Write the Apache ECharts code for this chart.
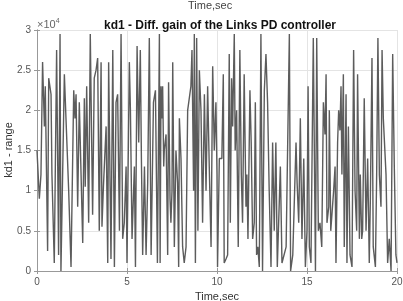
<!DOCTYPE html>
<html><head><meta charset="utf-8">
<script src="https://cdn.jsdelivr.net/npm/echarts@6/dist/echarts.min.js"></script>
<style>html,body{margin:0;padding:0;background:#fff}#c{width:403px;height:301px}</style>
</head><body><div id="c"></div>
<script>
var titleText = 'kd1 - Diff. gain of the Links PD controller';
var topText = 'Time,sec';
var xName = 'Time,sec';
var yName = 'kd1 - range';
var xTicks = [0, 5, 10, 15, 20];
var yTicks = [0, 0.5, 1, 1.5, 2, 2.5, 3];
var yScale = 10000;
var time = [0.0,0.13,0.22,0.31,0.41,0.46,0.59,0.65,0.78,0.83,0.96,1.09,1.2,1.28,1.33,1.52,1.61,1.76,1.89,2.04,2.11,2.17,2.26,2.35,2.54,2.63,2.68,2.76,2.87,2.96,3.09,3.18,3.28,
3.37,3.46,3.56,3.61,3.69,3.84,3.93,3.98,4.11,4.21,4.3,4.39,4.48,4.58,4.67,4.76,4.85,4.95,5.0,5.13,5.19,5.28,5.41,5.47,5.56,5.65,5.74,5.8,5.87,5.97,6.06,6.15,6.24,6.34,6.47,6.58,6.69,
6.80,6.84,6.89,6.94,6.98,7.04,7.07,7.17,7.26,7.31,7.39,7.44,7.5,7.54,7.63,7.72,7.81,7.87,7.91,8.0,8.09,8.18,8.28,8.37,8.46,8.55,8.61,8.70,8.74,8.80,8.87,8.94,9.02,9.11,9.2,9.3,9.39,9.48,9.57,9.67,9.76,9.85,
9.94,10.0,10.03,10.13,10.27,10.35,10.4,10.5,10.59,10.68,10.74,10.81,10.87,10.96,11.01,11.09,11.18,11.27,11.35,11.42,11.51,11.61,11.66,11.72,11.83,11.9,11.98,12.07,12.13,12.2,12.27,12.35,12.44,12.53,12.63,12.72,12.81,12.9,13.0,13.09,13.18,13.27,13.35,
13.52,13.61,13.69,13.84,14.02,14.09,14.21,14.3,14.39,14.45,14.54,14.63,14.72,14.82,14.91,15.0,15.06,15.13,15.22,15.35,15.47,15.54,15.63,15.72,15.82,15.91,16.0,16.06,16.11,16.21,16.24,16.32,16.43,16.48,16.56,16.61,
16.70,16.76,16.83,16.89,16.94,17.02,17.07,17.17,17.22,17.3,17.39,17.5,17.59,17.67,17.76,17.81,17.91,17.96,18.04,18.09,18.18,18.28,18.37,18.46,18.52,18.61,18.68,18.8,18.87,18.94,19.02,19.11,19.17,19.24,19.39,19.48,19.57,19.67,19.76,19.85,19.94,20.0];
var kd1 = [1.5,0.9,1.2,2.6,1.8,2.3,0.25,2.4,2.2,1.2,0.1,2.75,0.2,2.95,0.0,2.45,1.9,1.0,0.05,2.25,1.9,2.2,0.8,2.1,0.35,2.15,1.05,2.3,0.6,2.95,0.7,2.4,2.5,
2.65,0.5,2.6,0.55,1.05,1.8,0.1,2.6,0.15,2.75,0.05,2.1,2.2,0.5,2.95,0.4,0.6,1.3,0.1,2.6,2.0,0.4,1.3,0.05,2.8,1.6,2.75,1.4,0.2,1.3,0.2,1.1,2.9,0.2,2.1,2.25,0.1,
2.95,0.1,2.3,1.9,2.3,1.3,1.5,1.7,0.2,2.35,0.9,0.6,1.0,2.6,0.3,1.5,1.1,0.05,1.9,1.4,0.3,0.1,0.3,2.0,2.0,2.3,2.75,1.0,2.95,0.1,2.9,0.5,2.5,2.0,0.6,2.2,1.0,2.3,1.3,0.3,2.55,1.5,
2.1,1.2,0.05,1.4,1.4,2.45,0.1,0.15,0.2,2.7,0.6,2.4,1.8,2.95,1.5,2.0,0.3,2.75,1.2,0.6,2.45,0.8,1.2,0.4,2.25,1.6,0.4,0.6,2.1,0.2,0.3,0.05,2.95,0.0,2.25,2.7,2.1,1.0,0.05,1.6,0.5,1.6,0.05,
1.3,0.1,0.1,0.3,2.95,0.0,0.2,0.2,1.6,1.1,0.6,1.9,0.4,1.4,0.05,0.5,2.3,0.3,0.1,2.9,0.0,2.9,0.5,0.6,0.3,2.1,1.7,2.45,0.6,0.8,2.0,0.5,0.5,1.0,1.3,0.1,
1.6,2.0,1.75,2.3,1.2,2.45,0.3,2.2,0.1,1.8,0.2,0.05,2.75,1.0,0.5,2.45,0.4,1.2,0.4,0.5,2.15,0.5,1.4,0.1,0.9,2.65,0.3,0.05,1.2,2.9,1.2,0.8,2.75,1.9,1.2,0.1,0.4,0.0,2.7,1.3,0.2,0.1];

var pts = [];
for (var i = 0; i < time.length; i++) pts.push([time[i], kd1[i] * yScale]);

var chart = echarts.init(document.getElementById('c'), null, {renderer: 'canvas'});
var fontFam = 'Liberation Sans, Arial, sans-serif';
chart.setOption({
  animation: false,
  backgroundColor: '#fff',
  title: {
    text: titleText, left: 215, top: 15, textAlign: 'center',
    textStyle: {fontSize: 12, fontWeight: 'bold', color: '#111', fontFamily: fontFam}
  },
  graphic: [
    {type: 'text', left: 188, top: 0, style: {text: topText, fontSize: 11, fill: '#444', fontFamily: fontFam}},
    {type: 'text', left: 37, top: 18, style: {text: '×10{s|4}', rich: {s: {fontSize: 7, verticalAlign: 'top', padding: [0,0,6,0]}}, fontSize: 11, fill: '#666', fontFamily: fontFam}},
    {type: 'text', x: 9, y: 150, rotation: Math.PI / 2,
      style: {text: yName, fontSize: 11, fill: '#333', fontFamily: fontFam, align: 'center', verticalAlign: 'middle'}}
  ],
  grid: {left: 37, top: 30, right: 6, bottom: 30, show: false, outerBoundsMode: 'none', containLabel: false},
  xAxis: [{
    type: 'value', min: 0, max: 20, interval: 5,
    name: xName, nameLocation: 'middle', nameGap: 18,
    nameTextStyle: {fontSize: 11, color: '#333', fontFamily: fontFam},
    axisLine: {show: true, onZero: false, lineStyle: {color: '#999'}},
    axisTick: {show: true, inside: true, length: 3, lineStyle: {color: '#999'}},
    axisLabel: {fontSize: 10, color: '#555', margin: 6, fontFamily: fontFam},
    splitLine: {show: true, lineStyle: {color: '#e4e4e4', width: 1}}
  }, {
    type: 'value', position: 'top', min: 0, max: 20, interval: 5,
    axisLine: {show: true, lineStyle: {color: '#999'}},
    axisTick: {show: true, inside: true, length: 3, lineStyle: {color: '#999'}},
    axisLabel: {show: false}, splitLine: {show: false}
  }],
  yAxis: [{
    type: 'value', min: 0, max: 30000, interval: 5000,
    axisLine: {show: true, lineStyle: {color: '#999'}},
    axisTick: {show: true, inside: true, length: 3, lineStyle: {color: '#999'}},
    axisLabel: {fontSize: 10, color: '#555', margin: 6, fontFamily: fontFam,
      formatter: function (v) { return String(v / yScale); }},
    splitLine: {show: true, lineStyle: {color: '#e4e4e4', width: 1}}
  }, {
    type: 'value', position: 'right', min: 0, max: 30000, interval: 5000,
    axisLine: {show: true, lineStyle: {color: '#999'}},
    axisTick: {show: true, inside: true, length: 3, lineStyle: {color: '#999'}},
    axisLabel: {show: false}, splitLine: {show: false}
  }],
  series: [{
    type: 'line', data: pts, xAxisIndex: 0, yAxisIndex: 0,
    showSymbol: false, symbol: 'none',
    lineStyle: {color: '#5c5c5c', width: 1.4},
    clip: true
  }]
});
</script>
</body></html>
